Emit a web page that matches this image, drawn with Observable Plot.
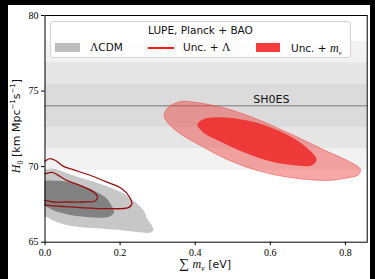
<!DOCTYPE html>
<html><head><meta charset="utf-8">
<script src="https://cdn.jsdelivr.net/npm/d3@7"></script>
<script src="https://cdn.jsdelivr.net/npm/@observablehq/plot@0.6"></script>
<style>
html,body{margin:0;padding:0;background:#000;}
#wrap{position:relative;width:375px;height:279px;background:#000;overflow:hidden;}
#paper{position:absolute;left:8px;top:5px;width:362px;height:274px;background:#fff;}
#chart{position:absolute;left:0;top:0;}
.sans{font-family:"DejaVu Sans",sans-serif;}
.serif{font-family:"Liberation Serif",serif;}
#legend{position:absolute;left:50px;top:20.5px;width:301px;height:37px;box-sizing:border-box;background:rgba(255,255,255,0.8);border:1px solid #d4d4d4;border-radius:3px;font-family:"DejaVu Sans",sans-serif;font-size:10.5px;color:#111;}
#legend .t{position:absolute;left:0;right:0;top:2px;text-align:center;}
#legend .it{position:absolute;top:19px;white-space:nowrap;}
#legend .sw{position:absolute;}
#xlab{position:absolute;left:205px;top:256px;transform:translateX(-50%);white-space:nowrap;font-size:11px;color:#111;}
#ylab{position:absolute;left:17px;top:126px;transform:translate(-50%,-50%) rotate(-90deg);white-space:nowrap;font-size:11px;color:#111;}
i.m{font-family:"Liberation Serif",serif;font-style:italic;font-size:12px;}
</style></head>
<body>
<div id="wrap"><div id="paper"></div><div id="chart"></div>
<div id="legend">
  <div class="t">LUPE, Planck + BAO</div>
  <div class="sw" style="left:4px;top:21px;width:25px;height:9px;background:#bdbdbd"></div>
  <div class="it" style="left:39px;"><span class="serif" style="font-size:11.5px">Λ</span>CDM</div>
  <div class="sw" style="left:97px;top:25.5px;width:26px;height:1.5px;background:#ff1a1a"></div>
  <div class="it" style="left:132px;">Unc. + <span class="serif" style="font-size:11.5px">Λ</span></div>
  <div class="sw" style="left:205px;top:21px;width:24px;height:9px;background:#f43e3e"></div>
  <div class="it" style="left:240px;">Unc. + <i class="m">m</i><sub class="serif" style="font-size:7px;font-style:italic">ν</sub></div>
</div>
<div id="xlab" class="sans"><span class="serif" style="font-size:14px">∑</span> <i class="m">m</i><sub class="serif" style="font-size:8px;font-style:italic">ν</sub> [eV]</div>
<div id="ylab" class="sans"><i class="m">H</i><sub class="serif" style="font-size:8px">0</sub> [km Mpc<sup style="font-size:7px">−1</sup>s<sup style="font-size:7px">−1</sup>]</div>
</div>
<script>
const xTicks = [0, 0.2, 0.4, 0.6, 0.8];
const yTicks = [65, 70, 75, 80];
const shoesH0 = 74.03;
const shoesLabel = "SH0ES";
const shoesLabelX = 0.603;
const bandLow = [69.77, 71.19, 72.61];
const bandHigh = [78.29, 76.87, 75.45];

// ΛCDM (grey filled contours)
const lcdmOuter = [[-0.01,69.8],[0.0,69.82],[0.025,69.85],[0.055,69.6],[0.09,69.3],[0.13,69.0],[0.17,68.65],[0.209,68.22],[0.243,67.6],[0.264,67.05],[0.272,66.55],[0.284,66.12],[0.289,65.8],[0.28,65.62],[0.253,65.66],[0.209,65.78],[0.147,65.9],[0.075,66.05],[0.031,66.34],[0.004,66.67],[-0.01,66.8]];
const lcdmInner = [[-0.01,68.95],[0.027,69.07],[0.06,69.0],[0.095,68.75],[0.13,68.42],[0.163,67.92],[0.178,67.38],[0.184,67.0],[0.17,66.68],[0.111,66.67],[0.058,66.85],[0.022,67.11],[0.0,67.4],[-0.01,67.5]];
// Unc. + Λ (dark red line contours)
const uncLambdaOuter = [[-0.01,70.3],[0.0,70.38],[0.013,70.53],[0.027,70.42],[0.049,70.02],[0.075,69.8],[0.12,69.43],[0.165,68.98],[0.204,68.55],[0.225,67.99],[0.231,67.51],[0.222,67.29],[0.165,67.22],[0.093,67.29],[0.04,67.38],[0.0,67.45],[-0.01,67.45]];
const uncLambdaInner = [[-0.01,69.5],[0.0,69.52],[0.018,69.62],[0.031,69.49],[0.058,69.09],[0.093,68.76],[0.129,68.32],[0.14,67.99],[0.133,67.73],[0.102,67.66],[0.058,67.66],[0.022,67.66],[0.0,67.77],[-0.01,67.8]];
// Unc. + m_nu (red filled contours)
const uncMnuOuter = [[0.329,73.94],[0.36,74.3],[0.395,74.27],[0.485,73.83],[0.573,73.06],[0.662,72.07],[0.751,71.01],[0.813,70.3],[0.84,69.82],[0.835,69.47],[0.805,69.25],[0.751,69.09],[0.662,69.25],[0.573,69.69],[0.485,70.48],[0.413,71.41],[0.36,72.18],[0.329,72.84],[0.317,73.39]];
const uncMnuInner = [[0.406,72.78],[0.422,73.13],[0.458,73.26],[0.511,73.17],[0.573,72.84],[0.645,72.11],[0.698,71.23],[0.723,70.48],[0.711,70.09],[0.662,70.09],[0.6,70.35],[0.529,70.96],[0.467,71.67],[0.422,72.25]];

const bands = bandLow.map((lo, i) => ({lo, hi: bandHigh[i]}));
const px = d => d[0], py = d => d[1];
const shape = (data, o) => Plot.line(data, {x: px, y: py, curve: "catmull-rom-closed", clip: true, ...o});

const chart = Plot.plot({
  width: 375, height: 279,
  marginLeft: 44.5, marginRight: 8.3, marginTop: 15, marginBottom: 37.3,
  style: {background: "transparent", fontFamily: "Liberation Serif, serif", fontSize: "10px", color: "black"},
  x: {domain: [0, 0.858]},
  y: {domain: [65, 80]},
  marks: [
    Plot.rect(bands, {y1: "lo", y2: "hi", fill: "#808080", fillOpacity: 0.1}),
    Plot.ruleY([shoesH0], {stroke: "#999", strokeWidth: 1.4}),
    Plot.text([shoesLabel], {x: () => shoesLabelX, y: () => shoesH0, text: d => d, dy: -3, lineAnchor: "bottom", fontFamily: "DejaVu Sans, sans-serif", fontSize: 11, fill: "#111"}),
    shape(lcdmOuter, {fill: "#c7c7c7", stroke: "none"}),
    shape(lcdmInner, {fill: "#828282", stroke: "none"}),
    shape(uncMnuOuter, {fill: "#f03c3c", fillOpacity: 0.45, stroke: "#f03c3c", strokeOpacity: 0.6, strokeWidth: 0.8}),
    shape(uncMnuInner, {fill: "#ee2828", fillOpacity: 0.85, stroke: "none"}),
    shape(uncLambdaOuter, {fill: "none", stroke: "#951010", strokeWidth: 1.3}),
    shape(uncLambdaInner, {fill: "none", stroke: "#951010", strokeWidth: 1.3}),
    Plot.axisX({ticks: xTicks, tickFormat: d3.format(".1f"), tickSize: 3.5, tickPadding: 3, label: null}),
    Plot.axisY({ticks: yTicks, tickSize: 3.5, tickPadding: 3, label: null}),
    Plot.frame({stroke: "black", strokeWidth: 1})
  ]
});
document.getElementById("chart").appendChild(chart);
</script>
</body></html>
